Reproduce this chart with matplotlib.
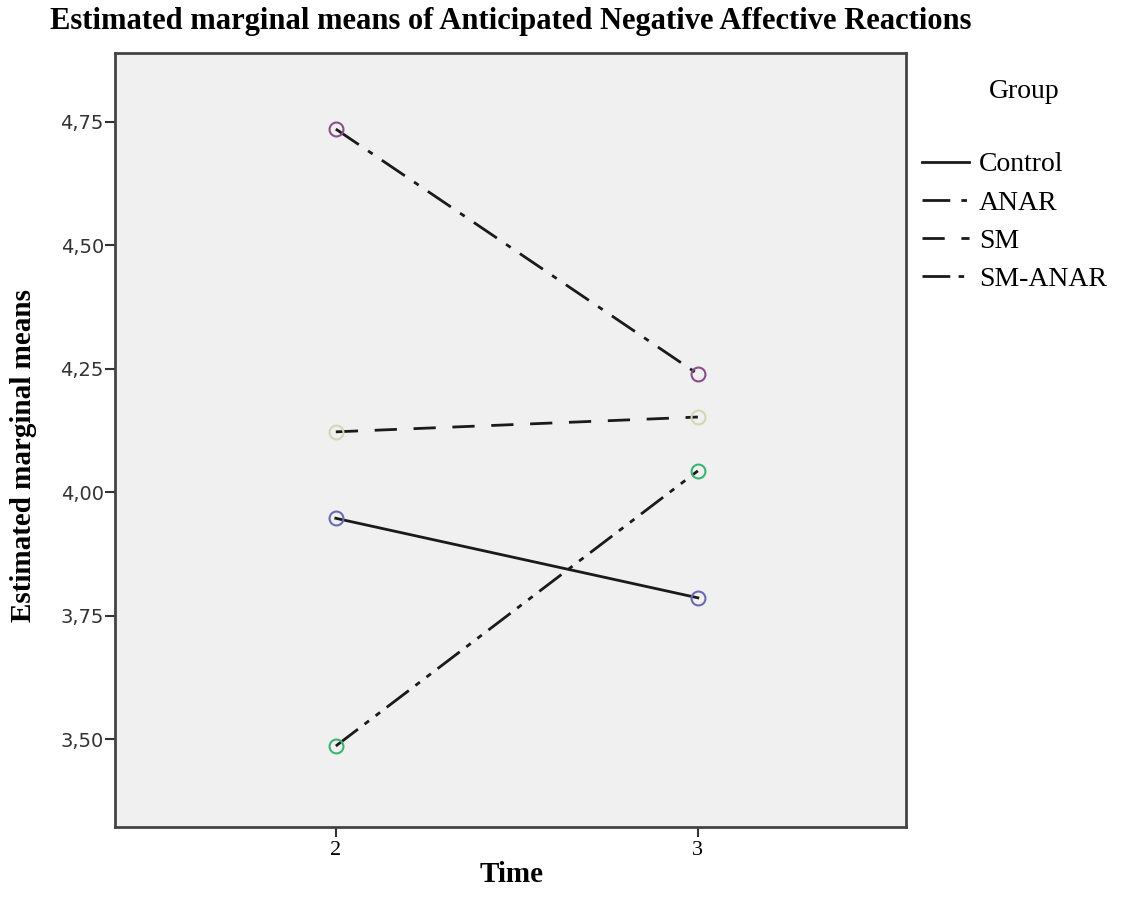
import matplotlib
matplotlib.use("Agg")
import matplotlib.pyplot as plt
from matplotlib.lines import Line2D

times = [2, 3]
groups = ["Control", "ANAR", "SM", "SM-ANAR"]
control = [3.947, 3.786]
anar = [4.735, 4.239]
sm = [4.122, 4.152]
sm_anar = [3.486, 4.043]
yticks = [3.50, 3.75, 4.00, 4.25, 4.50, 4.75]
ytick_labels = ["3,50", "3,75", "4,00", "4,25", "4,50", "4,75"]

series = [control, anar, sm, sm_anar]
styles = ["-", (0, (10, 4, 2, 4)), (0, (8, 6)), (0, (10, 3, 2, 3, 2, 3))]
mcolors = ["#6a6ab0", "#8a4f8a", "#d6d6b0", "#3cb371"]

fig = plt.figure(figsize=(11.33, 9.17), dpi=100)
ax = fig.add_axes([115/1133, 1-827/917, 791/1133, 774/917])
ax.set_facecolor("#f0f0f0")

for vals, ls, mc, name in zip(series, styles, mcolors, groups):
    ax.plot(times, vals, color="#1a1a1a", lw=2, linestyle=ls, zorder=2)
    ax.plot(times, vals, linestyle="none", marker="o", ms=10, mfc="none",
            mec=mc, mew=1.5, zorder=3)

ax.set_xlim(1.39, 3.575)
ax.set_ylim(3.322, 4.889)
ax.set_xticks(times)
ax.set_xticklabels([str(t) for t in times], family="Liberation Serif", fontsize=16)
ax.set_yticks(yticks)
ax.set_yticklabels(ytick_labels, family="DejaVu Sans", fontsize=14, color="#333333")
ax.tick_params(axis="both", direction="out", length=7, width=1.5, color="#333333")
ax.tick_params(axis="y", pad=1)
ax.tick_params(axis="x", pad=3)
for s in ax.spines.values():
    s.set_color("#444444")
    s.set_linewidth(2)

fig.text(511/1133, 1-22/917, "Estimated marginal means of Anticipated Negative Affective Reactions",
         ha="center", va="center", family="Liberation Serif", fontweight="bold", fontsize=22)
fig.text(24/1133, 1-456/917, "Estimated marginal means", rotation=90, ha="center", va="center",
         family="Liberation Serif", fontweight="bold", fontsize=21)
fig.text(512/1133, 1-874/917, "Time", ha="center", va="center",
         family="Liberation Serif", fontweight="bold", fontsize=21)

fig.text(1024/1133, 1-91/917, "Group", ha="center", va="center",
         family="Liberation Serif", fontsize=20)
handles = [Line2D([0], [0], color="#1a1a1a", lw=2, linestyle=ls) for ls in styles]
leg = fig.legend(handles, groups, loc="upper left",
                 bbox_to_anchor=(922/1133, 1-152/917), frameon=False,
                 prop={"family": "Liberation Serif", "size": 20},
                 handlelength=1.7, handletextpad=0.35, labelspacing=0.46,
                 borderpad=0, borderaxespad=0)

fig.savefig("out.png", dpi=100)
